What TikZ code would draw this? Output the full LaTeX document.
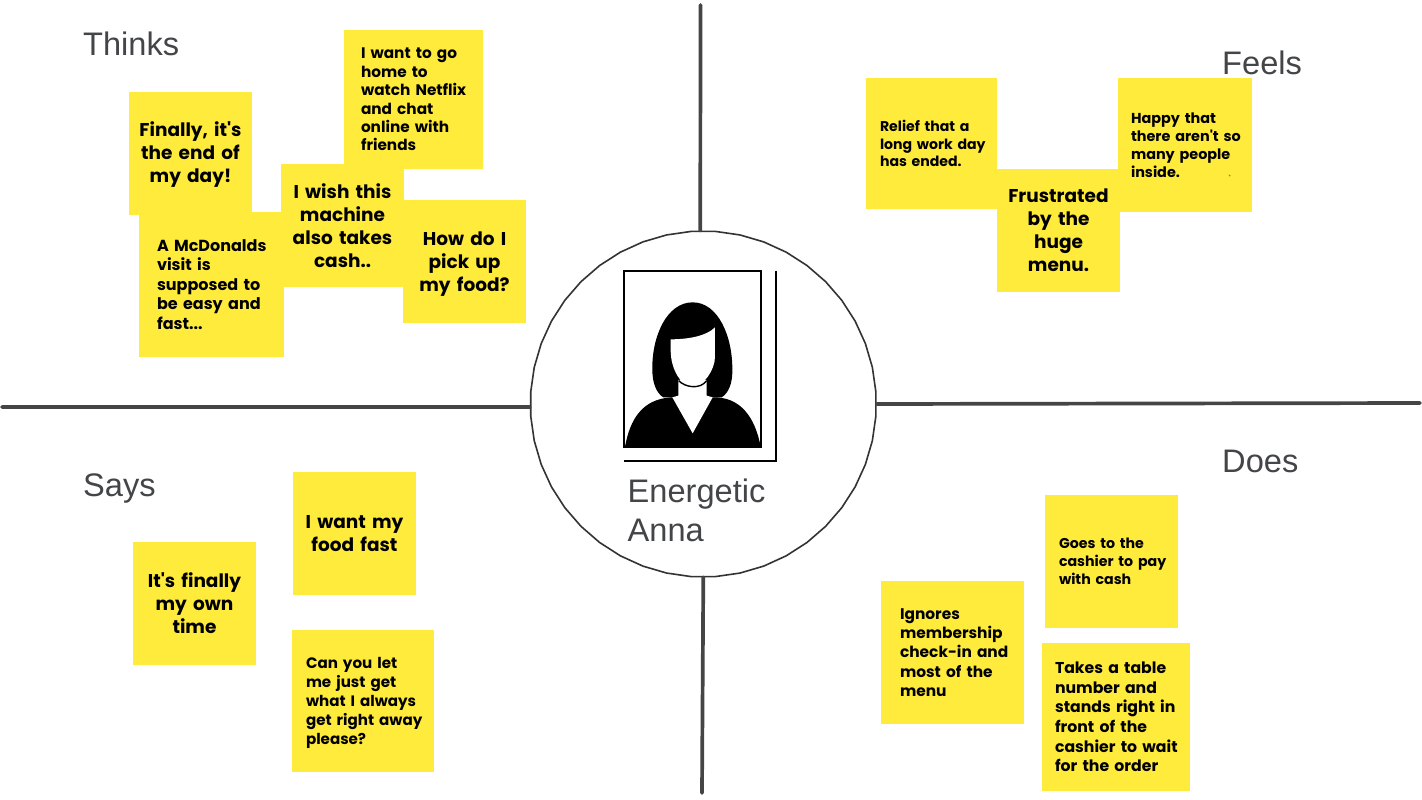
\documentclass[tikz,border=0pt]{standalone}
\usepackage{fontspec}
\setmainfont{Liberation Sans}
\newfontfamily\notefont{Poppins}
\usetikzlibrary{shapes.geometric}
\definecolor{noteyellow}{HTML}{FFEB3B}
\definecolor{labelgray}{HTML}{434548}
\definecolor{rulegray}{HTML}{454545}
\tikzset{
  x=1pt,y=-1pt,
  sticky/.style={fill=noteyellow,inner sep=0pt,minimum width=#1,minimum height=#1,text width=#1,text=black},
  padleft/.style={align=left,execute at begin node={\leftskip=#1\relax}},
  firstline/.style={execute at begin node={\rule{0pt}{#1}}},
  notesize/.style 2 args={font=\notefont\bfseries\fontsize{#1}{#2}\selectfont},
  bignote/.style={notesize={18.5}{23},align=center},
  quadrant/.style={font=\fontsize{32.6}{39}\selectfont,text=labelgray,inner sep=0pt,anchor=west,align=left},
  axis/.style={draw=rulegray,line width=3.7pt,line cap=round},
  hubring/.style={regular polygon,regular polygon sides=44,draw=black!80,line width=1.6pt,fill=white,minimum size=346pt,inner sep=0pt},
}
\begin{document}
\begin{tikzpicture}
\useasboundingbox (0,0) rectangle (1422,800);
\fill[white] (0,0) rectangle (1422,800);
% hub
\node[hubring] (hub) at (703.3,404) {};
\coordinate (topEnd) at (700.5,5);
\coordinate (botEnd) at (702,793);
\coordinate (leftEnd) at (2,407);
\coordinate (rightEnd) at (1420,403);
\draw[axis] (hub.91) -- (topEnd);
\draw[axis] (hub.270.4) -- (botEnd);
\draw[axis] (hub.181) -- (leftEnd);
\draw[axis] (hub.0.3) -- (rightEnd);
% portrait
\begin{scope}[shift={(600,250)},x=0.3333pt,y=-0.3333pt]
  \draw[black,line width=1.7pt] (71,63) rectangle (483,593);
  \draw[black,line width=1.8pt] (527,62) -- (527,632) -- (72,632);
  \fill[black] (70,594) -- (75,590) .. controls (90,510) and (125,447) .. (215,442)
     -- (338,442) .. controls (420,440) and (465,500) .. (482,590) -- (484,594) -- cycle;
  \fill[black] (278,157) .. controls (200,157) and (155,260) .. (157,360)
     .. controls (157,400) and (170,430) .. (190,442) -- (365,442)
     .. controls (385,430) and (398,400) .. (397,360)
     .. controls (398,260) and (355,157) .. (278,157) -- cycle;
  \fill[white] (235,390) -- (320,390) -- (320,437) -- (338,442) -- (278,550) -- (217,442) -- (235,437) -- cycle;
  \fill[white] (212,268) .. controls (265,268) and (320,258) .. (345,232)
     -- (345,320) .. controls (345,360) and (310,410) .. (278,410)
     .. controls (245,410) and (212,360) .. (212,300) -- cycle;
  \draw[black,line width=1.4pt] (236,392) .. controls (255,412) and (300,420) .. (320,392);
\end{scope}
\node[quadrant] (name) at (627.5,510.5) {Energetic\\Anna};
% thinks
\node[quadrant] (thinks) at (83,44) {Thinks};
\node[sticky=123pt,bignote,firstline=16pt] (n1) at (190.5,153.5) {Finally, it's\\the end of\\my day!};
\node[sticky=145pt,notesize={16}{19.4},padleft=18pt] (n2) at (211.5,284.5) {A McDonalds\\visit is\\supposed to\\be easy and\\fast...};
\node[sticky=139pt,notesize={15.3}{18.4},padleft=17pt] (n3) at (413.5,99.5) {I want to go\\home to\\watch Netflix\\and chat\\online with\\friends};
\node[sticky=123pt,bignote] (n4) at (342.5,225.5) {I wish this\\machine\\also takes\\cash..};
\node[sticky=123pt,bignote,firstline=18pt] (n5) at (464.5,261.5) {How do I\\pick up\\my food?};
% feels
\node[sticky=131pt,notesize={14.1}{17.6},padleft=14pt] (n6) at (931.5,143.5) {Relief that a\\long work day\\has ended.};
\node[sticky=123pt,bignote] (n7) at (1058.5,230.5) {Frustrated\\by the\\huge\\menu.};
\node[sticky=134pt,notesize={14.4}{18},padleft=13pt] (n8) at (1185,145) {Happy that\\there aren't so\\many people\\inside.};
\fill[black!40!noteyellow] (1229.7,175.5) circle[radius=1pt];
\node[quadrant] (feels) at (1222,63) {Feels};
% does
\node[quadrant] (does) at (1222,461) {Does};
\node[sticky=133pt,notesize={14.2}{18},padleft=14pt] (n9) at (1111.5,561.5) {Goes to the\\cashier to pay\\with cash};
\node[sticky=143pt,notesize={15.4}{19.2},padleft=19pt] (n10) at (952.5,652.5) {Ignores\\membership\\check-in and\\most of the\\menu};
\node[sticky=148pt,notesize={15.7}{19.6},padleft=13pt] (n11) at (1116,717) {Takes a table\\number and\\stands right in\\front of the\\cashier to wait\\for the order};
% says
\node[quadrant] (says) at (83,488) {Says};
\node[sticky=123pt,bignote] (n12) at (354.5,533.5) {I want my\\food fast};
\node[sticky=123pt,bignote] (n13) at (194.5,603.5) {It's finally\\my own\\time};
\node[sticky=142pt,notesize={15.1}{19},padleft=14pt,firstline=15.5pt] (n14) at (363,701) {Can you let\\me just get\\what I always\\get right away\\please?};
\end{tikzpicture}
\end{document}
